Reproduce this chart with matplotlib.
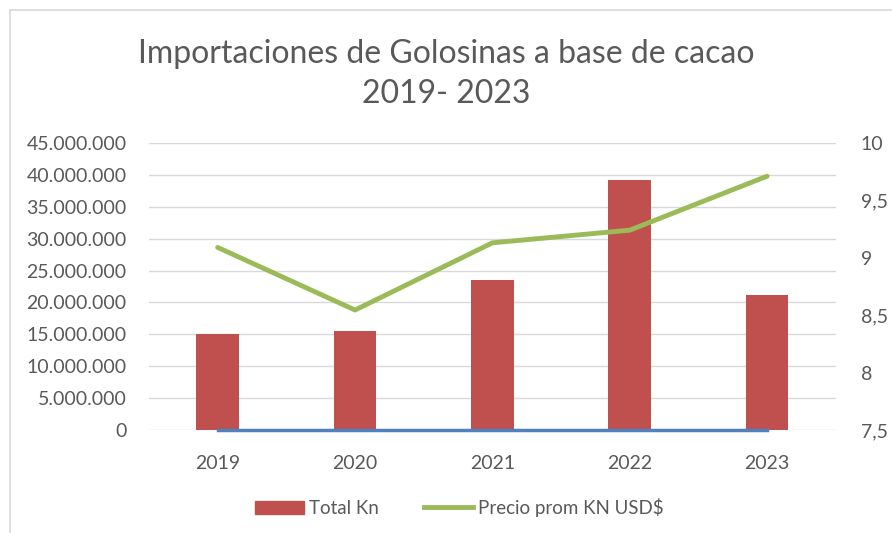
import numpy as np
import matplotlib
matplotlib.use("Agg")
import matplotlib.pyplot as plt
from matplotlib.ticker import FuncFormatter
from matplotlib.lines import Line2D
from matplotlib.patches import Patch

plt.rcParams['font.family'] = ['Lato', 'DejaVu Sans']

# data
years = ["2019", "2020", "2021", "2022", "2023"]
total_kn = [15050000, 15600000, 23500000, 39200000, 21200000]
precio_prom = [9.09, 8.545, 9.13, 9.24, 9.71]
anio = [2019, 2020, 2021, 2022, 2023]

red = "#C0504D"
green = "#9BBB59"
blue = "#4F81BD"
grey_txt = "#595959"
grid_c = "#D9D9D9"

fig = plt.figure(figsize=(8.92, 5.33), dpi=100)
ax = fig.add_axes([0.167, 0.193, 0.770, 0.539])
x = np.arange(len(years))

ax.bar(x, total_kn, width=0.31, color=red, zorder=2)
ax.plot(x, anio, color=blue, lw=2.5, zorder=3, clip_on=False)
ax.set_ylim(0, 45000000)
ax.set_yticks(np.arange(0, 45000001, 5000000))
ax.yaxis.set_major_formatter(FuncFormatter(lambda v, p: f"{int(v):,}".replace(",", ".")))
ax.set_xlim(-0.5, len(years) - 0.5)
ax.set_xticks(x)
ax.set_xticklabels(years)
ax.grid(axis='y', color=grid_c, lw=1, zorder=0)
for s in ax.spines.values():
    s.set_visible(False)
ax.tick_params(length=0, labelsize=14, colors=grey_txt, pad=16)
ax.tick_params(axis='x', pad=18)

ax2 = ax.twinx()
ax2.plot(x, precio_prom, color=green, lw=3.5, solid_capstyle='round', zorder=4)
ax2.set_ylim(7.5, 10)
ax2.set_yticks([7.5, 8, 8.5, 9, 9.5, 10])
ax2.yaxis.set_major_formatter(FuncFormatter(lambda v, p: f"{v:g}".replace(".", ",")))
for s in ax2.spines.values():
    s.set_visible(False)
ax2.tick_params(length=0, labelsize=14, colors=grey_txt, pad=18)

fig.text(0.5, 0.862, "Importaciones de Golosinas a base de cacao\n2019- 2023",
         ha='center', va='center', fontsize=23, color=grey_txt, linespacing=1.42)

handles = [Patch(color=red), Line2D([0], [0], color=green, lw=3.5)]
fig.legend(handles, ["Total Kn", "Precio prom KN USD$"], loc='center',
           bbox_to_anchor=(0.515, 0.048), ncol=2, frameon=False, fontsize=13.5,
           labelcolor=grey_txt, handlelength=2.6, handletextpad=0.3, columnspacing=2.4)

# chart area border (partly cropped)
fig.add_artist(Line2D([0.011, 0.011], [0, 0.981], color=grid_c, lw=1.2))
fig.add_artist(Line2D([0.011, 1], [0.981, 0.981], color=grid_c, lw=1.2))

fig.savefig("out.png", dpi=100)
